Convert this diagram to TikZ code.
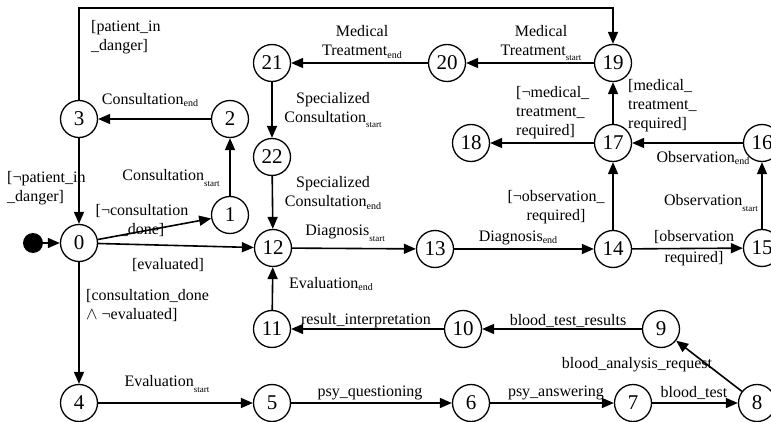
\documentclass[tikz,border=0pt]{standalone}
\usepackage{fontspec}
\setmainfont{Liberation Serif}
\usetikzlibrary{arrows.meta}
% small lowered indices for the activity names
\newcommand\subE[1]{\raisebox{-0.3ex}{\fontsize{10}{10}\selectfont #1}}
\newcommand\subS[1]{\raisebox{-0.75ex}{\fontsize{9}{9}\selectfont #1}}

\begin{document}
\begin{tikzpicture}[x=1pt,y=-1pt,
  state/.style={circle,draw,line width=1.3pt,minimum size=37pt,inner sep=0pt,
    font=\fontsize{21}{21}\selectfont},
  edge/.style={line width=1.6pt,-{Triangle[length=12pt,width=10pt]}},
  lbl/.style={inner sep=0pt,font=\fontsize{16}{19}\selectfont},
]
\useasboundingbox (0,0) rectangle (771,422);

% states
\node[circle,fill=black,minimum size=20pt,inner sep=0pt] (init) at (33,243) {};
\node[state] (n0)  at (79,243)  {0};
\node[state] (n1)  at (230,215) {1};
\node[state] (n2)  at (230,119) {2};
\node[state] (n3)  at (79,119)  {3};
\node[state] (n4)  at (79,403)  {4};
\node[state] (n5)  at (272,403) {5};
\node[state] (n6)  at (471,403) {6};
\node[state] (n7)  at (633,403) {7};
\node[state] (n8)  at (757,403) {8};
\node[state] (n9)  at (661,329) {9};
\node[state] (n10) at (463,329) {10};
\node[state] (n11) at (272,329) {11};
\node[state] (n12) at (273,248) {12};
\node[state] (n13) at (435,249) {13};
\node[state] (n14) at (613,249) {14};
\node[state] (n15) at (762,248) {15};
\node[state] (n16) at (762,143) {16};
\node[state] (n17) at (613,143) {17};
\node[state] (n18) at (471,143) {18};
\node[state] (n19) at (613,63)  {19};
\node[state] (n20) at (447,63)  {20};
\node[state] (n21) at (272,63)  {21};
\node[state] (n22) at (272,157) {22};

% bend points of the long loop over the top
\coordinate (topR) at (613,8);

% transitions
\draw[edge] (init) -- (n0);
\draw[edge] (n0) -- (n1);
\draw[edge] (n0) -- (n12);
\draw[edge] (n0) -- (n4);
\draw[edge] (n1) -- (n2);
\draw[edge] (n2) -- (n3);
\draw[edge] (n3) -- (n0);
\draw[edge] (n3.north) |- (topR) -- (n19);
\draw[edge] (n4) -- (n5);
\draw[edge] (n5) -- (n6);
\draw[edge] (n6) -- (n7);
\draw[edge] (n7) -- (n8);
\draw[edge] (n8) -- (n9);
\draw[edge] (n9) -- (n10);
\draw[edge] (n10) -- (n11);
\draw[edge] (n11) -- (n12);
\draw[edge] (n12) -- (n13);
\draw[edge] (n13) -- (n14);
\draw[edge] (n14) -- (n15);
\draw[edge] (n15) -- (n16);
\draw[edge] (n16) -- (n17);
\draw[edge] (n14) -- (n17);
\draw[edge] (n17) -- (n18);
\draw[edge] (n17) -- (n19);
\draw[edge] (n19) -- (n20);
\draw[edge] (n20) -- (n21);
\draw[edge] (n21) -- (n22);
\draw[edge] (n22) -- (n12);

% labels
\node[lbl,anchor=west,align=left] (lDanger) at (91,37) {[patient\_in\\\_danger]};
\node[lbl] (lConsEnd) at (150,100) {Consultation\subE{end}};
\node[lbl] (lConsStart) at (171,178) {Consultation\subS{start}};
\node[lbl,anchor=west,align=left] (lNoDanger) at (7,188) {[¬patient\_in\\\_danger]};
\node[lbl,align=center] (lNoCons) at (142,221) {[¬consultation\\\_done]};
\node[lbl] (lEval) at (168,265) {[evaluated]};
\node[lbl,anchor=west,align=left] (lConsDone) at (86,306) {[consultation\_done\\$\wedge$ ¬evaluated]};
\node[lbl] (lEvalStart) at (167,384) {Evaluation\subS{start}};
\node[lbl] (lPsyQ) at (370,393) {psy\_questioning};
\node[lbl] (lPsyA) at (556,393) {psy\_answering};
\node[lbl] (lBlood) at (694,393) {blood\_test};
\node[lbl] (lRequest) at (637,365) {blood\_analysis\_request};
\node[lbl] (lResults) at (568,321) {blood\_test\_results};
\node[lbl] (lInterp) at (366,321) {result\_interpretation};
\node[lbl] (lEvalEnd) at (331,284) {Evaluation\subE{end}};
\node[lbl] (lDiagStart) at (345,233) {Diagnosis\subS{start}};
\node[lbl] (lDiagEnd) at (518,238) {Diagnosis\subE{end}};
\node[lbl,align=center] (lObsReq) at (694,248) {[observation\\[2pt]required]};
\node[lbl] (lObsStart) at (711,203) {Observation\subS{start}};
\node[lbl] (lObsEnd) at (703,158) {Observation\subE{end}};
\node[lbl,align=center] (lNoObs) at (556,207) {[¬observation\_\\required]};
\node[lbl,anchor=west,align=left] (lNoMed) at (516,113) {[¬medical\_\\treatment\_\\required]};
\node[lbl,anchor=west,align=left] (lMed) at (628,106) {[medical\_\\treatment\_\\required]};
\node[lbl,align=center] (lMedStart) at (541,43) {Medical\\Treatment\subS{start}};
\node[lbl,align=center] (lMedEnd) at (362,42) {Medical\\Treatment\subE{end}};
\node[lbl,align=center] (lSpecStart) at (333,110) {Specialized\\Consultation\subS{start}};
\node[lbl,align=center] (lSpecEnd) at (333,193) {Specialized\\Consultation\subE{end}};
\end{tikzpicture}
\end{document}
